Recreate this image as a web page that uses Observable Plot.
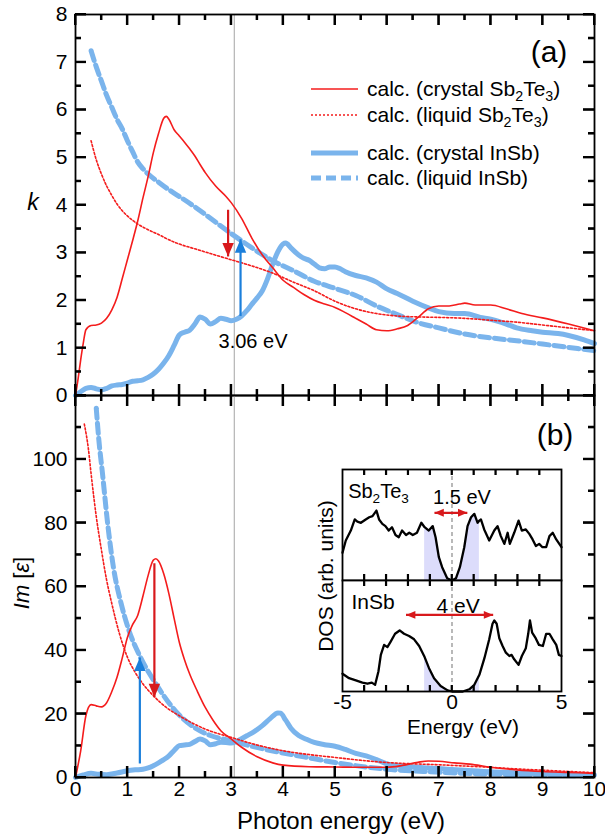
<!DOCTYPE html>
<html>
<head>
<meta charset="utf-8">
<script src="https://cdn.jsdelivr.net/npm/d3@7"></script>
<script src="https://cdn.jsdelivr.net/npm/@observablehq/plot@0.6"></script>
<style>
  html, body { margin: 0; padding: 0; background: #fff; }
  #fig { position: relative; width: 605px; height: 839px; overflow: hidden; font-family: "Liberation Sans", Arial, sans-serif; }
</style>
</head>
<body>
<div id="fig"></div>
<script>
// ---------------- tick values ----------------
const xLabels = [0, 1, 2, 3, 4, 5, 6, 7, 8, 9, 10];
const xMinor = [0.5, 1.5, 2.5, 3.5, 4.5, 5.5, 6.5, 7.5, 8.5, 9.5];
const kLabels = [0, 1, 2, 3, 4, 5, 6, 7, 8];
const kMinor = [0.5, 1.5, 2.5, 3.5, 4.5, 5.5, 6.5, 7.5];
const imLabels = [0, 20, 40, 60, 80, 100];
const imMajor = [0, 20, 40, 60, 80, 100, 120];
const imMinor = [10, 30, 50, 70, 90, 110];
const dosTicks = [-4, -3, -2, -1, 0, 1, 2, 3, 4];
const dosLabels = [-5, 0, 5];

// ---------------- panel (a): k ----------------
const kCrystalSb2Te3 = [[0,0],[0.05,0.35],[0.1,0.75],[0.15,1.1],[0.2,1.38],[0.3,1.47],[0.4,1.48],[0.5,1.52],[0.6,1.62],[0.7,1.8],[0.8,2.06],[0.9,2.45],[1.0,2.85],[1.1,3.25],[1.2,3.67],[1.3,4.15],[1.4,4.6],[1.5,5.1],[1.6,5.5],[1.7,5.82],[1.75,5.86],[1.8,5.8],[1.9,5.58],[2.0,5.45],[2.1,5.32],[2.2,5.18],[2.3,5.03],[2.4,4.85],[2.5,4.68],[2.7,4.4],[2.9,4.18],[3.0,4.05],[3.2,3.72],[3.4,3.3],[3.6,2.95],[3.8,2.68],[4.0,2.42],[4.2,2.27],[4.4,2.12],[4.6,2.0],[4.8,1.92],[5.0,1.85],[5.2,1.74],[5.4,1.62],[5.6,1.5],[5.8,1.38],[6.0,1.36],[6.2,1.4],[6.4,1.47],[6.6,1.64],[6.8,1.82],[7.0,1.88],[7.2,1.88],[7.4,1.92],[7.5,1.94],[7.7,1.9],[8.0,1.9],[8.3,1.82],[8.6,1.72],[9.0,1.63],[9.5,1.5],[10,1.36]];
const kLiquidSb2Te3 = [[0.3,5.35],[0.4,4.95],[0.5,4.65],[0.6,4.4],[0.7,4.2],[0.8,4.02],[0.9,3.88],[1.0,3.77],[1.2,3.6],[1.4,3.48],[1.6,3.38],[1.8,3.27],[2.0,3.18],[2.3,3.08],[2.6,2.98],[3.0,2.85],[3.4,2.72],[3.8,2.57],[4.2,2.38],[4.6,2.2],[5.0,1.98],[5.4,1.82],[5.8,1.72],[6.2,1.67],[6.6,1.65],[7.0,1.64],[7.5,1.62],[8.0,1.58],[8.5,1.54],[9.0,1.48],[9.5,1.42],[10,1.36]];
const kCrystalInSb = [[0,0],[0.1,0.08],[0.2,0.15],[0.3,0.17],[0.4,0.14],[0.5,0.12],[0.6,0.15],[0.7,0.2],[0.8,0.22],[0.9,0.23],[1.0,0.26],[1.1,0.3],[1.2,0.31],[1.3,0.33],[1.4,0.38],[1.5,0.45],[1.6,0.55],[1.7,0.68],[1.8,0.84],[1.9,1.05],[2.0,1.27],[2.1,1.33],[2.2,1.37],[2.3,1.5],[2.4,1.65],[2.5,1.6],[2.6,1.5],[2.7,1.55],[2.8,1.62],[2.9,1.6],[3.0,1.57],[3.1,1.6],[3.2,1.67],[3.3,1.78],[3.4,1.92],[3.5,2.05],[3.6,2.2],[3.7,2.45],[3.8,2.76],[3.9,3.02],[4.0,3.18],[4.05,3.2],[4.15,3.1],[4.3,2.95],[4.4,2.88],[4.5,2.84],[4.6,2.76],[4.7,2.68],[4.8,2.66],[4.9,2.7],[5.0,2.7],[5.1,2.66],[5.2,2.6],[5.4,2.52],[5.6,2.47],[5.8,2.38],[6.0,2.24],[6.2,2.14],[6.5,1.98],[6.8,1.84],[7.0,1.76],[7.3,1.72],[7.5,1.72],[7.8,1.64],[8.0,1.6],[8.3,1.5],[8.5,1.42],[8.8,1.36],[9.0,1.33],[9.3,1.3],[9.5,1.26],[9.8,1.17],[10,1.09]];
const kLiquidInSb = [[0.3,7.24],[0.4,6.9],[0.5,6.6],[0.6,6.3],[0.7,6.05],[0.8,5.8],[0.9,5.6],[1.0,5.35],[1.1,5.12],[1.2,4.9],[1.3,4.76],[1.4,4.65],[1.6,4.48],[1.8,4.32],[2.0,4.18],[2.3,3.96],[2.6,3.72],[3.0,3.4],[3.4,3.1],[3.8,2.83],[4.2,2.62],[4.6,2.4],[5.0,2.25],[5.4,2.1],[5.8,1.88],[6.2,1.7],[6.6,1.53],[7.0,1.42],[7.5,1.29],[8.0,1.21],[8.5,1.15],[9.0,1.08],[9.5,1.01],[10,0.94]];

// ---------------- panel (b): Im[eps] ----------------
const imCrystalSb2Te3 = [[0,0],[0.1,8.4],[0.2,19.4],[0.3,22.9],[0.4,22.5],[0.5,22.2],[0.6,23.5],[0.7,27],[0.8,31.5],[0.9,37.5],[1.0,44],[1.1,48],[1.2,51],[1.3,57],[1.4,63.5],[1.5,68.3],[1.55,68.7],[1.6,68],[1.7,64],[1.8,57.7],[1.9,50],[2.0,42.5],[2.1,37],[2.2,32.5],[2.35,27],[2.5,22],[2.65,18],[2.8,14.7],[3.0,12.1],[3.2,9.5],[3.5,6.5],[3.8,4.6],[4.0,3.9],[4.5,3.4],[5.0,3.3],[5.5,3.2],[6.0,3.2],[6.3,3.8],[6.6,4.8],[6.8,5.2],[7.0,5.1],[7.3,4.6],[7.6,4.2],[8.0,3.2],[8.5,2.4],[9.0,1.9],[9.5,1.6],[10,1.3]];
const imLiquidSb2Te3 = [[0.17,111],[0.25,103],[0.3,95.5],[0.4,82],[0.5,71.4],[0.6,62],[0.7,54.6],[0.85,45],[1.0,37.8],[1.15,33],[1.3,29.4],[1.5,25.7],[1.75,22],[2.0,19.4],[2.5,15.2],[3.0,12.6],[3.5,10.2],[4.0,8.4],[4.5,7.2],[5.0,6.3],[5.5,5.4],[6.0,4.7],[6.5,4.3],[7.0,4.0],[7.5,3.6],[8.0,3.2],[8.5,2.7],[9.0,2.3],[9.5,1.9],[10,1.5]];
const imCrystalInSb = [[0,0],[0.15,0.8],[0.3,1.3],[0.45,1.0],[0.6,0.9],[0.8,1.4],[1.0,2.1],[1.15,2.4],[1.3,2.6],[1.4,3.0],[1.5,3.7],[1.6,4.6],[1.7,5.6],[1.8,6.8],[1.9,8.5],[2.0,10],[2.1,10.2],[2.2,10.4],[2.3,11.3],[2.4,12.1],[2.5,11.5],[2.6,10.3],[2.7,10.6],[2.8,11.1],[2.9,11],[3.0,10.8],[3.1,11.3],[3.2,12.2],[3.3,13.1],[3.45,14.5],[3.6,16.3],[3.75,18.5],[3.9,20.3],[3.95,20.2],[4.05,18],[4.15,15.5],[4.3,13.2],[4.45,12],[4.6,11],[4.8,10.3],[5.0,9.8],[5.2,8.8],[5.4,7.6],[5.6,6.8],[5.8,5.6],[6.0,4.3],[6.3,3.6],[6.6,3.2],[7.0,2.8],[7.5,2.3],[8.0,1.8],[8.5,1.5],[9.0,1.2],[9.5,1.0],[10,0.8]];
const imLiquidInSb = [[0.4,116],[0.45,106],[0.52,95.5],[0.62,79.7],[0.73,66.1],[0.88,54.6],[1.03,46.2],[1.25,37.8],[1.55,29.4],[1.92,21],[2.29,15.7],[2.6,13.2],[3.0,11.5],[3.4,9.8],[3.78,8.4],[4.4,6.5],[5.0,4.7],[5.5,3.5],[6.0,2.6],[6.7,1.9],[7.5,1.3],[8.5,0.9],[10,0.5]];

// ---------------- inset: DOS (arb. units) ----------------
const dosSb2Te3 = [[-5,0.25],[-4.85,0.36],[-4.62,0.45],[-4.44,0.55],[-4.32,0.53],[-4.16,0.52],[-3.94,0.55],[-3.78,0.57],[-3.63,0.58],[-3.45,0.63],[-3.33,0.55],[-3.18,0.51],[-3.04,0.49],[-2.89,0.45],[-2.74,0.48],[-2.58,0.41],[-2.43,0.39],[-2.28,0.45],[-2.1,0.41],[-1.95,0.43],[-1.79,0.41],[-1.6,0.43],[-1.4,0.52],[-1.25,0.48],[-1.06,0.45],[-0.88,0.49],[-0.75,0.39],[-0.6,0.21],[-0.45,0.12],[-0.22,0.02],[0,0],[0.18,0.02],[0.36,0.12],[0.56,0.3],[0.71,0.49],[0.87,0.57],[1.02,0.6],[1.17,0.52],[1.25,0.54],[1.32,0.55],[1.47,0.46],[1.7,0.36],[1.93,0.45],[2.08,0.49],[2.23,0.4],[2.39,0.33],[2.54,0.43],[2.64,0.33],[2.84,0.43],[3.04,0.54],[3.19,0.45],[3.37,0.46],[3.53,0.42],[3.68,0.37],[3.83,0.31],[3.98,0.33],[4.13,0.3],[4.3,0.3],[4.45,0.4],[4.6,0.43],[4.76,0.37],[5,0.3]];
const dosInSb = [[-5,0.16],[-4.7,0.12],[-4.39,0.1],[-4.09,0.08],[-3.86,0.07],[-3.66,0.08],[-3.51,0.06],[-3.36,0.18],[-3.25,0.33],[-3.1,0.42],[-2.95,0.4],[-2.8,0.45],[-2.6,0.52],[-2.39,0.55],[-2.19,0.52],[-1.96,0.5],[-1.73,0.47],[-1.5,0.41],[-1.25,0.31],[-1.05,0.21],[-0.82,0.12],[-0.52,0.05],[-0.2,0.01],[0,0],[0.49,0],[0.79,0.02],[1.02,0.06],[1.25,0.15],[1.48,0.3],[1.7,0.47],[1.85,0.61],[1.93,0.64],[2.04,0.61],[2.16,0.48],[2.31,0.41],[2.46,0.35],[2.62,0.32],[2.72,0.33],[2.84,0.29],[3.04,0.24],[3.19,0.32],[3.37,0.39],[3.48,0.52],[3.56,0.64],[3.66,0.53],[3.82,0.48],[3.97,0.42],[4.15,0.41],[4.3,0.52],[4.45,0.52],[4.6,0.47],[4.76,0.42],[4.88,0.33],[5,0.32]];

// ---------------- annotations ----------------
const markerEnergy = 3.06;
const markerLabel = {x: 3.42, y: 1.13, text: "3.06 eV"};
const arrowsK = [{x: 2.94, from: 3.9, to: 2.92, c: "red"}, {x: 3.18, from: 1.67, to: 3.28, c: "blue"}];
const arrowsIm = [{x: 1.24, from: 4.4, to: 37.7, c: "blue"}, {x: 1.52, from: 67.3, to: 25.2, c: "red"}];
const shadeWindow = {lo: -1.25, hi: 1.25};
const gapSb2Te3 = [{from: -0.8, to: 0.7, y: 0.61}];
const gapInSb = [{from: -2.1, to: 1.88, y: 0.69}];

// ---------------- styles ----------------
const FONT = '"Liberation Sans", Arial, Helvetica, sans-serif';
const RED = "#f41c1c", BLUE = "#7ab4ec", GRAY = "#b4b4b4", SHADE = "#dcdcfb";
const ARROW = {red: "#d8191c", blue: "#1b7fdb"};
const fig = document.getElementById("fig");
function place(node, top) {
  node.style.position = "absolute"; node.style.left = "0px"; node.style.top = top + "px";
  node.style.overflow = "visible";
  fig.appendChild(node);
}
const baseStyle = {background: "transparent", fontFamily: FONT, fontSize: "21px", color: "black"};

// overlay layer (created now, attached last so it sits on top)
const ov = d3.create("svg").attr("width", 605).attr("height", 839)
  .style("position", "absolute").style("left", "0px").style("top", "0px")
  .style("font-family", FONT).style("pointer-events", "none");

const arrowHead = {
  draw(ctx, size) {
    const r = Math.sqrt(size / Math.PI);
    const h = 2.6 * r, w = 1.1 * r;
    ctx.moveTo(0, 0); ctx.lineTo(w, h); ctx.lineTo(-w, h); ctx.closePath();
  }
};

// inward ticks as Plot marks (short tick lines pinned to the frame edges via insets)
function tickMarks({fw, fh, xMaj = [], xMin = [], yMaj = [], yMin = [], maj = 11, min = 6, sw = 2, sides = "tblr"}) {
  const st = {stroke: "#000000", strokeWidth: sw};
  const m = [];
  const xt = (arr, len) => {
    if (!arr.length) return;
    if (sides.includes("b")) m.push(Plot.tickX(arr, {x: d => d, insetTop: fh - len, ...st}));
    if (sides.includes("t")) m.push(Plot.tickX(arr, {x: d => d, insetBottom: fh - len, ...st}));
  };
  const yt = (arr, len) => {
    if (!arr.length) return;
    if (sides.includes("l")) m.push(Plot.tickY(arr, {y: d => d, insetRight: fw - len, ...st}));
    if (sides.includes("r")) m.push(Plot.tickY(arr, {y: d => d, insetLeft: fw - len, ...st}));
  };
  xt(xMaj, maj); xt(xMin, min); yt(yMaj, maj); yt(yMin, min);
  return m;
}

// the same ticks again on the top layer, positioned with each plot's own x / y scales
function drawTicks(plot, top, {xMaj = [], xMin = [], yMaj = [], yMin = [], maj = 11, min = 6, sw = 2, sides = "tblr"}) {
  const sx = plot.scale("x"), sy = plot.scale("y");
  const xl = Math.min(...sx.range), xr = Math.max(...sx.range);
  const yt = Math.min(...sy.range) + top, yb = Math.max(...sy.range) + top;
  const segs = [];
  const f = v => (+v).toFixed(2);
  const addX = (arr, len) => {
    for (const v of arr) {
      const px = sx.apply(v);
      if (sides.includes("b")) segs.push(`M${f(px)},${f(yb)}V${f(yb - len)}`);
      if (sides.includes("t")) segs.push(`M${f(px)},${f(yt)}V${f(yt + len)}`);
    }
  };
  const addY = (arr, len) => {
    for (const v of arr) {
      const py = sy.apply(v) + top;
      if (sides.includes("l")) segs.push(`M${f(xl)},${f(py)}H${f(xl + len)}`);
      if (sides.includes("r")) segs.push(`M${f(xr)},${f(py)}H${f(xr - len)}`);
    }
  };
  addX(xMaj, maj); addX(xMin, min); addY(yMaj, maj); addY(yMin, min);
  ov.append("path").attr("d", segs.join("")).attr("stroke", "#000000").attr("stroke-width", sw).attr("fill", "none");
}

function vArrows(data, r) {
  const m = [];
  for (const d of data) {
    m.push(Plot.link([d], {x1: "x", x2: "x", y1: "from", y2: "to", stroke: ARROW[d.c], strokeWidth: 2.2}));
    m.push(Plot.dot([d], {x: "x", y: "to", symbol: arrowHead, r, fill: ARROW[d.c], stroke: "none", rotate: d.to > d.from ? 0 : 180}));
  }
  return m;
}
function hArrows(data, r) {
  const m = [];
  for (const d of data) {
    m.push(Plot.link([d], {x1: "from", x2: "to", y1: "y", y2: "y", stroke: ARROW.red, strokeWidth: 2.2}));
    m.push(Plot.dot([d], {x: "from", y: "y", symbol: arrowHead, r, fill: ARROW.red, stroke: "none", rotate: -90}));
    m.push(Plot.dot([d], {x: "to", y: "y", symbol: arrowHead, r, fill: ARROW.red, stroke: "none", rotate: 90}));
  }
  return m;
}
const X = d => d[0], Y = d => d[1];
function curves(cS, lS, cI, lI) {
  return [
    Plot.line(lI, {x: X, y: Y, stroke: BLUE, strokeWidth: 5, strokeDasharray: "10,5", curve: "monotone-x"}),
    Plot.line(cI, {x: X, y: Y, stroke: BLUE, strokeWidth: 5, strokeLinejoin: "round", curve: "monotone-x"}),
    Plot.line(lS, {x: X, y: Y, stroke: RED, strokeWidth: 1.6, strokeDasharray: "2,2", curve: "monotone-x"}),
    Plot.line(cS, {x: X, y: Y, stroke: RED, strokeWidth: 1.6, curve: "monotone-x"})
  ];
}

// ---------------- panel (a) ----------------
const ML = 75, MR = 11, FW = 605 - ML - MR;
const A = {top: 0, h: 400, mt: 14, mb: 5};
const panelA = Plot.plot({
  width: 605, height: A.h, marginTop: A.mt, marginBottom: A.mb, marginLeft: ML, marginRight: MR,
  style: baseStyle,
  x: {domain: [0, 10], axis: null},
  y: {domain: [0, 8]},
  marks: [
    Plot.ruleX([markerEnergy], {stroke: GRAY, strokeWidth: 1.2}),
    ...curves(kCrystalSb2Te3, kLiquidSb2Te3, kCrystalInSb, kLiquidInSb),
    ...vArrows(arrowsK, 5.2),
    Plot.text([markerLabel], {x: "x", y: "y", text: "text", fontSize: 20, fill: "black"}),
    ...tickMarks({fw: FW, fh: A.h - A.mt - A.mb, xMaj: xLabels, xMin: xMinor, yMaj: kLabels, yMin: kMinor}),
    Plot.frame({stroke: "black", strokeWidth: 1.8}),
    Plot.axisY({ticks: kLabels, tickSize: 0, tickPadding: 8, tickFormat: d => String(d), label: null, fontSize: 21})
  ]
});
place(panelA, A.top);
drawTicks(panelA, A.top, {xMaj: xLabels, xMin: xMinor, yMaj: kLabels, yMin: kMinor});

// ---------------- panel (b) ----------------
const B = {top: 390, h: 449, mt: 5, mb: 62};
const panelB = Plot.plot({
  width: 605, height: B.h, marginTop: B.mt, marginBottom: B.mb, marginLeft: ML, marginRight: MR,
  style: baseStyle,
  x: {domain: [0, 10]},
  y: {domain: [0, 120]},
  marks: [
    Plot.ruleX([markerEnergy], {stroke: GRAY, strokeWidth: 1.2}),
    ...curves(imCrystalSb2Te3, imLiquidSb2Te3, imCrystalInSb, imLiquidInSb),
    ...vArrows(arrowsIm, 5.2),
    ...tickMarks({fw: FW, fh: B.h - B.mt - B.mb, xMaj: xLabels, xMin: xMinor, yMaj: imMajor, yMin: imMinor}),
    Plot.frame({stroke: "black", strokeWidth: 1.8}),
    Plot.axisY({ticks: imLabels, tickSize: 0, tickPadding: 8, tickFormat: d => String(d), label: null, fontSize: 21}),
    Plot.axisX({ticks: xLabels, tickSize: 0, tickPadding: 4, tickFormat: d => String(d), label: null, fontSize: 21})
  ]
});
place(panelB, B.top);
drawTicks(panelB, B.top, {xMaj: xLabels, xMin: xMinor, yMaj: imMajor, yMin: imMinor});

// ---------------- inset ----------------
const IML = 342, IMR = 605 - 561;
const IT = {top: 464, h: 121, mt: 5, mb: 5};
const IB = {top: 575, h: 121, mt: 5, mb: 5};
function insetPlot(cfg, dos, gap, withLabels) {
  const fh = cfg.h - cfg.mt - cfg.mb;
  const marks = [
    Plot.frame({fill: "white", stroke: "none"}),
    Plot.areaY(dos, {x: X, y: Y, fill: SHADE, filter: d => d[0] >= shadeWindow.lo && d[0] <= shadeWindow.hi}),
    Plot.ruleX([0], {stroke: "#8a8a8a", strokeWidth: 1.2, strokeDasharray: "4,3"}),
    Plot.line(dos, {x: X, y: Y, stroke: "black", strokeWidth: 2.3, strokeLinejoin: "round"}),
    ...hArrows(gap, 3.6),
    ...tickMarks({fw: 605 - IML - IMR, fh, xMaj: dosTicks, maj: 6, sw: 1.7, sides: "tb"}),
    Plot.frame({stroke: "black", strokeWidth: 1.8})
  ];
  if (withLabels) marks.push(Plot.axisX({ticks: dosLabels, tickSize: 0, tickPadding: 3, tickFormat: d => (d < 0 ? "-" + (-d) : String(d)), label: null, fontSize: 21}));
  const p = Plot.plot({
    width: 605, height: cfg.h, marginTop: cfg.mt, marginBottom: cfg.mb, marginLeft: IML, marginRight: IMR,
    style: baseStyle,
    x: {domain: [-5, 5], axis: withLabels ? undefined : null},
    y: {domain: [0, 1], axis: null},
    marks
  });
  place(p, cfg.top);
  drawTicks(p, cfg.top, {xMaj: dosTicks, maj: 6, sw: 1.7, sides: "tb"});
  return p;
}
const insetTop = insetPlot(IT, dosSb2Te3, gapSb2Te3, false);
const insetBottom = insetPlot(IB, dosInSb, gapInSb, true);

// ---------------- overlay texts & legend ----------------
function rich(sel, parts, size) {
  let shifted = false;
  const sh = Math.round(size * 0.24);
  for (const [t, kind] of parts) {
    const ts = sel.append("tspan").text(t);
    if (kind === "sub") { ts.attr("font-size", size * 0.68); if (!shifted) ts.attr("dy", sh); shifted = true; }
    else { if (shifted) ts.attr("dy", -sh); shifted = false; if (kind === "i") ts.attr("font-style", "italic"); }
  }
}
function label(x, y, parts, size, anchor = "start", rotate = 0) {
  const t = ov.append("text").attr("font-size", size).attr("text-anchor", anchor).attr("fill", "black")
    .attr("transform", `translate(${x},${y}) rotate(${rotate})`);
  rich(t, parts, size);
  return t;
}

// axis titles and panel tags
label(33, 210, [["k", "i"]], 23, "middle");
label(29, 583, [["Im", "i"], [" ["], ["ε", "i"], ["]"]], 22, "middle", -90);
label(341, 829, [["Photon energy (eV)"]], 24, "middle");
label(549, 62, [["(a)"]], 30, "middle");
label(555, 445, [["(b)"]], 30, "middle");

// legend
const legend = [
  {parts: [["calc. (crystal Sb"], ["2", "sub"], ["Te"], ["3", "sub"], [")"]], stroke: RED, w: 1.6, dash: null, y: 89},
  {parts: [["calc. (liquid Sb"], ["2", "sub"], ["Te"], ["3", "sub"], [")"]], stroke: RED, w: 1.6, dash: "2,2", y: 115},
  {parts: [["calc. (crystal InSb)"]], stroke: BLUE, w: 5, dash: null, y: 153},
  {parts: [["calc. (liquid InSb)"]], stroke: BLUE, w: 5, dash: "10,5", y: 178}
];
for (const L of legend) {
  ov.append("line").attr("x1", 311).attr("x2", 358).attr("y1", L.y).attr("y2", L.y)
    .attr("stroke", L.stroke).attr("stroke-width", L.w).attr("stroke-dasharray", L.dash);
  label(367, L.y + 7, L.parts, 21);
}

// inset texts
const sxT = insetTop.scale("x"), syT = insetTop.scale("y");
const sxB = insetBottom.scale("x"), syB = insetBottom.scale("y");
label(sxT.apply(-4.72), IT.top + syT.apply(0.8) + 7, [["Sb"], ["2", "sub"], ["Te"], ["3", "sub"]], 20);
label(sxT.apply(0.48), IT.top + syT.apply(0.75) + 7, [["1.5 eV"]], 20, "middle");
label(sxB.apply(-4.57), IB.top + syB.apply(0.8) + 7, [["InSb"]], 21);
label(sxB.apply(0.3), IB.top + syB.apply(0.77) + 7, [["4 eV"]], 21, "middle");
label(463, 734, [["Energy (eV)"]], 21, "middle");
label(333, 576, [["DOS (arb. units)"]], 21, "middle", -90);

fig.appendChild(ov.node());
</script>
</body>
</html>
